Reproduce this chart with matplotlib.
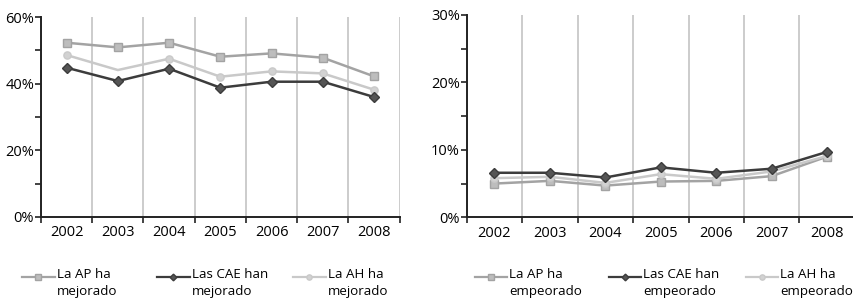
#!/usr/bin/env python3
"""Opinion evolution 2002-2008: two line panels (mejorado / empeorado)."""

import matplotlib
matplotlib.use("Agg")
import matplotlib.pyplot as plt
import numpy as np
from matplotlib.lines import Line2D
from matplotlib.ticker import FixedLocator, FuncFormatter

plt.rcParams["font.family"] = ["Open Sans", "DejaVu Sans"]

YEARS = ["2002", "2003", "2004", "2005", "2006", "2007", "2008"]

# left panel: "ha mejorado" (%)
AP_MEJ = [52.3, 50.9, 52.3, 48.1, 49.1, 47.8, 42.2]
CAE_MEJ = [44.8, 40.8, 44.5, 38.8, 40.6, 40.6, 36.0]
AH_MEJ = [48.6, 44.1, 47.5, 42.1, 43.7, 43.1, 38.2]

# right panel: "ha empeorado" (%)
AP_EMP = [5.0, 5.4, 4.7, 5.3, 5.4, 6.1, 9.0]
CAE_EMP = [6.6, 6.6, 5.9, 7.4, 6.6, 7.2, 9.7]
AH_EMP = [5.8, 6.0, 5.1, 6.4, 5.7, 6.8, 9.1]

LABELS_MEJ = ["La AP ha\nmejorado", "Las CAE han\nmejorado", "La AH ha\nmejorado"]
LABELS_EMP = ["La AP ha\nempeorado", "Las CAE han\nempeorado", "La AH ha\nempeorado"]

W, H = 854, 302
FS = 10.5
FS_LEG = 9.6

# (line colour, marker, marker face) per series: AP, CAE, AH
STYLES = [
    ("#a3a3a3", "s", "#bdbdbd"),
    ("#3c3c3c", "D", "#555555"),
    ("#c9c9c9", "o", "#d2d2d2"),
]


def draw_panel(ax, series, ymax, ystep, ah_skip=None):
    x = np.arange(len(YEARS))
    for i, vals in enumerate(series):
        col, mk, face = STYLES[i]
        every = None
        if i == 2 and ah_skip is not None:
            every = [k for k in range(len(x)) if k != ah_skip]
        ax.plot(x, vals, color=col, lw=1.8, marker=mk,
                ms=5.2 if mk != "D" else 4.8, mfc=face, mec=col,
                markevery=every, zorder=4 if i == 1 else 3)

    ax.set_xlim(-0.5, len(YEARS) - 0.5)
    ax.set_xticks(x)
    ax.set_xticklabels(YEARS, fontsize=FS)
    ax.xaxis.set_minor_locator(FixedLocator(np.arange(len(YEARS) + 1) - 0.5))
    ax.tick_params(axis="x", which="major", length=0, pad=6)
    ax.tick_params(axis="x", which="minor", length=4, width=1.2, color="#222222")
    ax.grid(axis="x", which="minor", color="#c4c4c4", lw=1.2)

    ax.set_ylim(0, ymax)
    ax.set_yticks(np.arange(0, ymax + 0.1, ystep))
    ax.set_yticks(np.arange(ystep / 2, ymax, ystep), minor=True)
    ax.yaxis.set_major_formatter(FuncFormatter(lambda v, p: f"{v:.0f}%"))
    ax.tick_params(axis="y", which="both", length=4, width=1.2,
                   color="#222222", labelsize=FS, pad=1)

    for s in ("top", "right"):
        ax.spines[s].set_visible(False)
    for s in ("left", "bottom"):
        ax.spines[s].set_linewidth(1.4)
        ax.spines[s].set_color("#222222")


def draw_legend(fig, labels, starts, handle_len=33, y=277):
    # legend entries laid out by hand so the handle sits on the first line
    for (col, mk, face), label, x0 in zip(STYLES, labels, starts):
        x1 = x0 + handle_len
        fy = 1 - y / H
        fig.add_artist(Line2D([x0 / W, x1 / W], [fy, fy], color=col, lw=1.6,
                              transform=fig.transFigure))
        fig.add_artist(Line2D([(x0 + x1) / 2 / W], [fy], color=col, marker=mk,
                              ms=3.8 if mk != "D" else 3.4, mfc=face, mec=col,
                              transform=fig.transFigure))
        fig.text((x1 + 2) / W, 1 - (y - 9) / H, label, fontsize=FS_LEG,
                 va="top", ha="left", linespacing=1.45)


fig = plt.figure(figsize=(W / 100, H / 100), dpi=100)
ax1 = fig.add_axes([0.048, 0.2815, 0.420, 0.662])
ax2 = fig.add_axes([0.5465, 0.2805, 0.4545, 0.670])

draw_panel(ax1, [AP_MEJ, CAE_MEJ, AH_MEJ], 60, 20, ah_skip=1)
draw_panel(ax2, [AP_EMP, CAE_EMP, AH_EMP], 30, 10)

draw_legend(fig, LABELS_MEJ, [22, 157, 293])
draw_legend(fig, LABELS_EMP, [475, 609, 746], handle_len=32)

fig.savefig("out.png", dpi=100)
